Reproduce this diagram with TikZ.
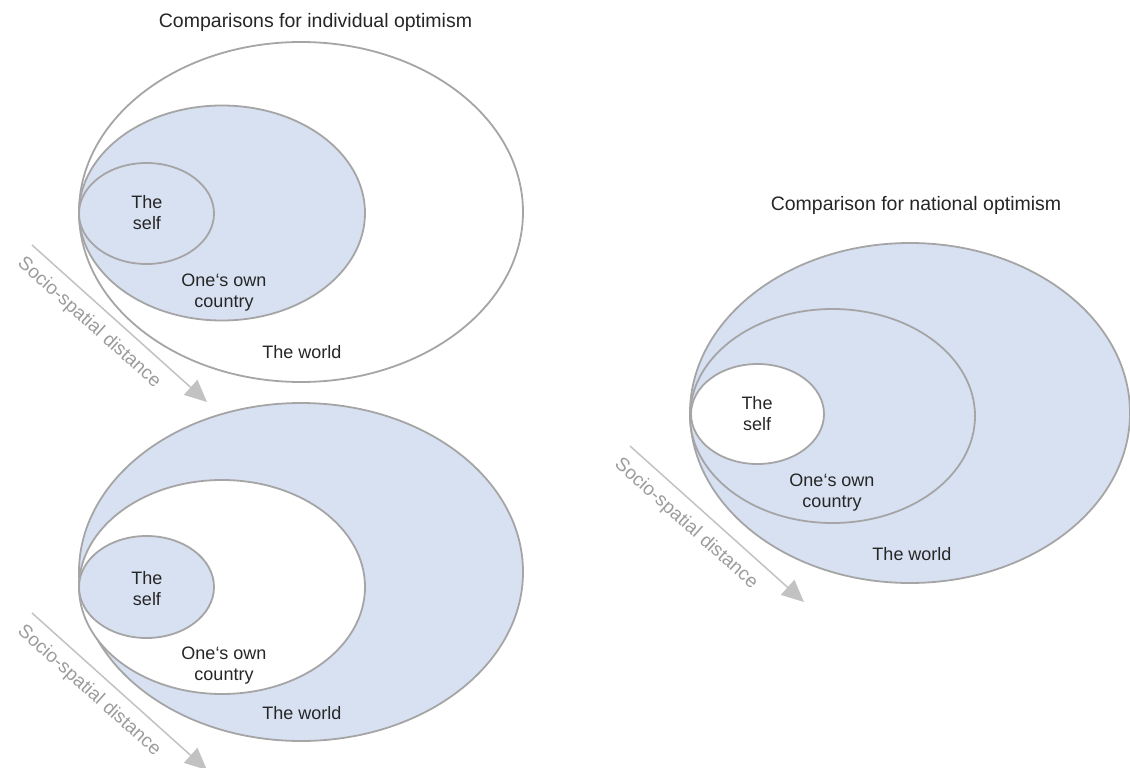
\documentclass[tikz,border=0pt]{standalone}
\usepackage{fontspec}
\setmainfont{Liberation Sans}
\usetikzlibrary{shapes.geometric,arrows.meta}
\definecolor{fillblue}{HTML}{D8E1F2}
\definecolor{edgegray}{HTML}{A5A5A5}
\definecolor{arrowgray}{HTML}{C2C2C2}
\definecolor{labelgray}{HTML}{9C9C9C}
\begin{document}
\begin{tikzpicture}[x=1pt,y=-1pt,
  ring/.style={ellipse, draw=edgegray, line width=1.8pt, inner sep=0pt, outer sep=0pt},
  blue/.style={ring, fill=fillblue},
  white/.style={ring, fill=white},
  lbl/.style={align=center, inner sep=0pt, font=\fontsize{18}{21}\selectfont, text=black!85},
  ttl/.style={inner sep=0pt, font=\fontsize{19.5}{23}\selectfont, text=black!85},
  dist/.style={inner sep=0pt, font=\fontsize{19}{22}\selectfont, text=labelgray, rotate=-41.9},
  distarrow/.style={draw=arrowgray, line width=1.5pt, -{Triangle[length=22pt,width=20pt,fill=arrowgray!90!black!0!arrowgray]}}
]
\useasboundingbox (0,0) rectangle (1130,768);

% ---------- top left: individual optimism ----------
\node[ttl] (t1) at (315.5,22) {Comparisons for individual optimism};
\node[white, minimum width=444pt, minimum height=340pt] (w1) at (301,212) {};
\node[blue, minimum width=286pt, minimum height=215pt] (c1) at (222,213) {};
\node[blue, minimum width=135pt, minimum height=101pt] (s1) at (146.5,213.5) {};
\node[lbl] (ls1) at (147,213) {The\\self};
\node[lbl] (lc1) at (224,292.5) {One‘s own\\country};
\node[lbl] (lw1) at (302,352) {The world};

% ---------- bottom left ----------
\node[blue, minimum width=444pt, minimum height=338pt] (w2) at (301,572) {};
\node[white, minimum width=286pt, minimum height=214pt] (c2) at (222,587) {};
\node[blue, minimum width=135pt, minimum height=102pt] (s2) at (146.5,587) {};
\node[lbl] (ls2) at (147,588.5) {The\\self};
\node[lbl] (lc2) at (224,665.5) {One‘s own\\country};
\node[lbl] (lw2) at (302,713) {The world};

% ---------- right: national optimism ----------
\node[ttl] (t2) at (916,205) {Comparison for national optimism};
\node[blue, minimum width=440pt, minimum height=340pt] (w3) at (910,413) {};
\node[blue, minimum width=285pt, minimum height=214pt] (c3) at (832.5,416) {};
\node[white, minimum width=133pt, minimum height=100pt] (s3) at (757.5,414) {};
\node[lbl] (ls3) at (757,414) {The\\self};
\node[lbl] (lc3) at (832,493) {One‘s own\\country};
\node[lbl] (lw3) at (912,554) {The world};

% ---------- socio-spatial distance arrows ----------
\coordinate (a1s) at (32,245);
\coordinate (a1e) at (207,402);
\draw[distarrow] (a1s) -- (a1e);
\node[dist] (d1) at (89,323) {Socio-spatial distance};

\coordinate (a2s) at (32,613);
\coordinate (a2e) at (207,770);
\draw[distarrow] (a2s) -- (a2e);
\node[dist] (d2) at (89,691) {Socio-spatial distance};

\coordinate (a3s) at (630,446);
\coordinate (a3e) at (804,602);
\draw[distarrow] (a3s) -- (a3e);
\node[dist] (d3) at (686,524) {Socio-spatial distance};
\end{tikzpicture}
\end{document}
